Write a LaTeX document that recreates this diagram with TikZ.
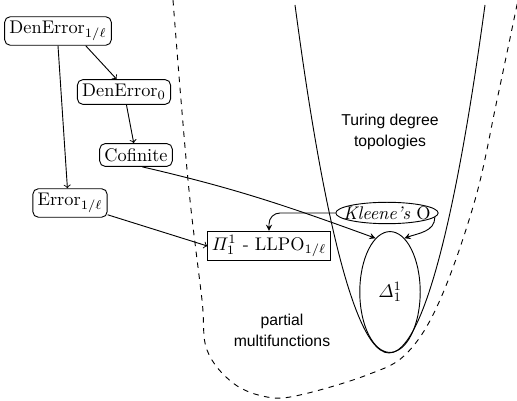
\documentclass[tikz,border=0pt]{standalone}
\usepackage{amssymb}
\usepackage{mathtools}
\usepackage{fontspec}
\newfontfamily\regionsans{Liberation Sans}
\usepackage{tikz}
\usetikzlibrary{arrows}
\usetikzlibrary{calc,shapes.geometric}

\tikzset{
  cls/.style={draw,rounded corners=3pt,inner sep=2.6pt},
  clsbox/.style={draw,inner sep=2.2pt},
  region/.style={font=\regionsans\fontsize{8.6}{11.5}\selectfont,align=center},
}

\begin{document}
\begin{tikzpicture}[x=0.0192cm,y=0.0192cm,>=to,line width=0.5pt]
\useasboundingbox (0,0) rectangle (517,401);

% the two regions
\draw (295,396) parabola bend (389,48) (485,396);
\draw[dashed] plot[smooth,tension=0.6] coordinates {(173,401) (181,301) (190,201) (202,101) (207,51) (233,18) (267,4) (300,6) (367,26) (407,48) (440,101) (475,201) (497,301) (518,401)};

\node[region] (turing) at (390,269) {Turing degree\\topologies};
\node[region] (partial) at (282,71) {partial\\multifunctions};

% the problems
\node[cls] (den1) at (58,370) {DenError$_{1/\ell}$};
\node[cls] (den0) at (124,309) {DenError$_0$};
\node[cls] (cofinite) at (136,246) {Cofinite};
\node[cls] (error) at (70,198) {Error$_{1/\ell}$};
\node[clsbox] (pi) at (269,155) {$\varPi^1_1$ - LLPO$_{1/\ell}$};
\node[draw,ellipse,inner xsep=-4pt,inner ysep=0.5pt] (kleene) at (387,188) {\textit{Kleene's} O};
\node[draw,ellipse,minimum width=33pt,minimum height=66pt] (delta) at (390,109) {$\varDelta^1_1$};

\path[->] (den1.-28)   edge (den0.120)
          (den1.south) edge (error.100)
          (den0)       edge (cofinite)
          (error)      edge (pi.west);

\draw[-stealth] (cofinite.-62) to[out=-13,in=160] (delta.105);
\draw[-stealth,rounded corners=6pt] (kleene.west) -| (pi.north);
\draw[-stealth] (kleene.-5) to[out=-90,in=20] (delta.75);
\end{tikzpicture}
\end{document}
